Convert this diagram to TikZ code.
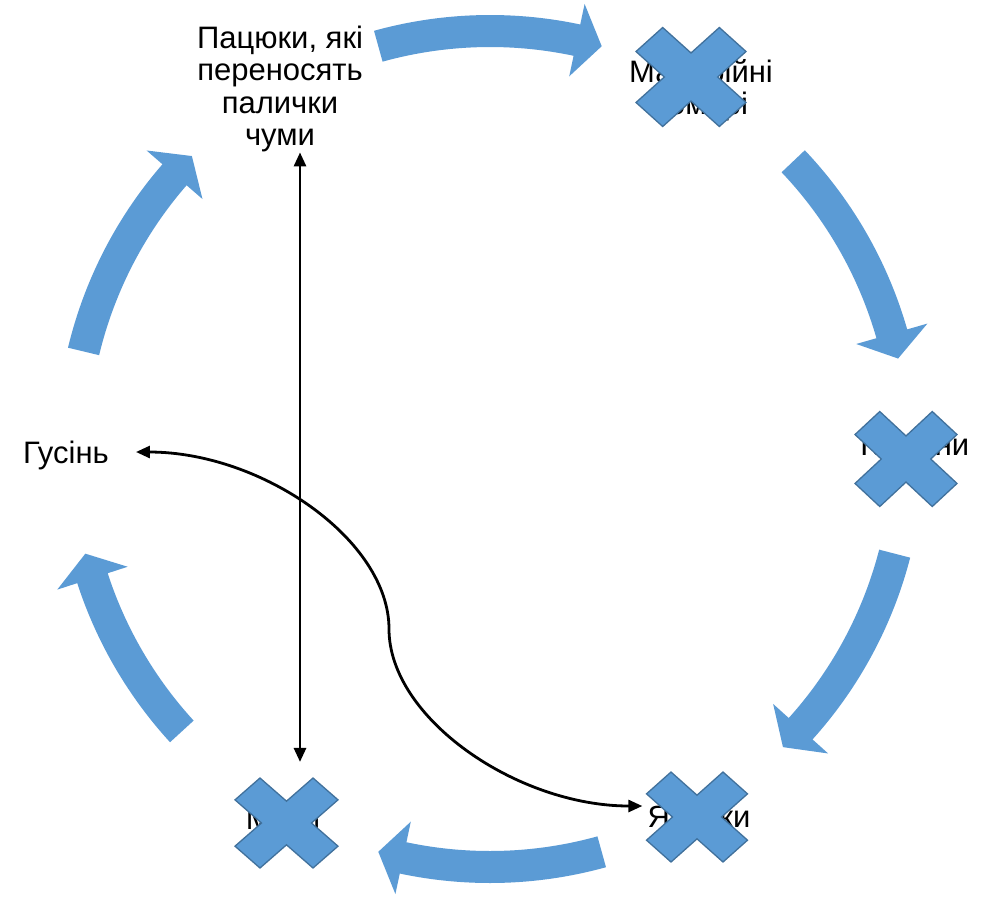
\documentclass[tikz,border=0pt]{standalone}
\usepackage{fontspec}
\setmainfont{Liberation Sans}
\usetikzlibrary{arrows.meta,calc}
\definecolor{xblue}{HTML}{5B9BD5}
\definecolor{xedge}{HTML}{41719C}
\tikzset{
  lbl/.style={font=\fontsize{31}{32.5}\selectfont, align=center, inner sep=0pt, text=black},
  arr/.style={fill=xblue, draw=none},
  xs/.style={fill=xblue, draw=xedge, line width=1.3pt, line join=miter},
  conn/.style={draw=black, line width=2.8pt, {Triangle[length=14pt,width=12pt]}-{Triangle[length=14pt,width=12pt]}}
}
% #1 = tail angle, #2 = tip angle (clockwise arrows)
\newcommand\cyclearrow[2]{%
  \fill[arr] (#1:434) arc[start angle=#1, end angle={#2+3.5}, radius=434]
    -- ({#2+3.5}:455) -- (#2:418) -- ({#2+3.5}:381) -- ({#2+3.5}:402)
    arc[start angle={#2+3.5}, end angle=#1, radius=402] -- cycle;}
\newcommand\crossmark[4]{%
  \filldraw[xs, shift={(#1,#2)}, xscale=#3, yscale=#4, rotate=45]
    (0.343,0.343) -- (1.071,0.343) -- (1.071,-0.343) -- (0.343,-0.343)
    -- (0.343,-1.071) -- (-0.343,-1.071) -- (-0.343,-0.343) -- (-1.071,-0.343)
    -- (-1.071,0.343) -- (-0.343,0.343) -- (-0.343,1.071) -- (0.343,1.071) -- cycle;}
\begin{document}
\begin{tikzpicture}[x=1pt,y=-1pt]
\fill[white] (0,0) rectangle (984,898);
\useasboundingbox (0,0) rectangle (984,898);
% cycle arrows
\begin{scope}[shift={(490,449)}, yscale=-1]
  \cyclearrow{105.5}{74.5}
  \cyclearrow{43.5}{12.5}
  \cyclearrow{-14.5}{-45.5}
  \cyclearrow{-74.5}{-105.5}
  \cyclearrow{-137.5}{-165.5}
  \cyclearrow{166.5}{135.5}
\end{scope}
% labels
\node[lbl] (rats) at (280,89) {Пацюки, які\\переносять\\палички\\чуми};
\node[lbl] (mosq) at (701,90) {Малярійні\\комарі};
\node[lbl] (roach) at (912,448) {Таргани};
\node[lbl] (liz) at (699,819) {Ящірки};
\node[lbl] (flies) at (283,822) {Мухи};
\node[lbl] (cat) at (66,455) {Гусінь};
% connectors
\coordinate (vtop) at ([xshift=20pt]rats.south);
\coordinate (vbot) at ($(vtop |- flies.north)+(0,-46)$);
\draw[conn] (vtop) -- (vbot);
\coordinate (cs) at ($(cat.east)+(27,-3)$);
\coordinate (ce) at ($(liz.west)+(-5,-13)$);
\draw[conn] (cs) .. controls (262,452) and (389,540) .. (389,629)
  .. controls (389,718) and (517,806) .. (ce);
% cross marks
\crossmark{691}{77}{55}{49.5}
\crossmark{906}{459}{51}{47.5}
\crossmark{697}{817}{50.5}{45}
\crossmark{286.5}{823}{51.5}{45}
\end{tikzpicture}
\end{document}
